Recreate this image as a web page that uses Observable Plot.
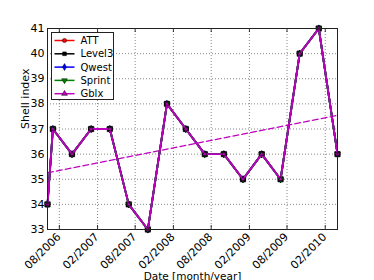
<!DOCTYPE html>
<html><head><meta charset="utf-8">
<script src="https://cdn.jsdelivr.net/npm/d3@7"></script>
<script src="https://cdn.jsdelivr.net/npm/@observablehq/plot@0.6"></script>
<style>
body{margin:0;background:#fff}
#chart{width:374px;height:280px}
</style>
</head><body><div id="chart"></div>
<script>
const dates = ["2006-06-05","2006-07-01","2006-10-01","2007-01-01","2007-04-01","2007-07-01","2007-10-01","2008-01-01","2008-04-01","2008-07-01","2008-10-01","2009-01-01","2009-04-01","2009-07-01","2009-10-01","2010-01-01","2010-04-01"];
const att    = [34,37,36,37,37,34,33,38,37,36,36,35,36,35,40,41,36];
const level3 = [34,37,36,37,37,34,33,38,37,36,36,35,36,35,40,41,36];
const qwest  = [34,37,36,37,37,34,33,38,37,36,36,35,36,35,40,41,36];
const sprint = [34,37,36,37,37,34,33,38,37,36,36,35,36,35,40,41,36];
const gblx   = [34,37,36,37,37,34,33,38,37,36,36,35,36,35,40,41,36];
const seriesNames = ["ATT","Level3","Qwest","Sprint","Gblx"];
const seriesValues = [att, level3, qwest, sprint, gblx];
const seriesColors = ["#ff0000","#000000","#0000ff","#008000","#bf00bf"];
const xTicks = ["2006-08-01","2007-02-01","2007-08-01","2008-02-01","2008-08-01","2009-02-01","2009-08-01","2010-02-01"];
const xTickLabels = ["08/2006","02/2007","08/2007","02/2008","08/2008","02/2009","08/2009","02/2010"];
const yTicks = [33,34,35,36,37,38,39,40,41];
const xLabel = "Date [month/year]";
const yLabel = "Shell index";

const ML = 47, MR = 37, MT = 28, MB = 51, W = 374, H = 280;
const parse = d3.utcParse("%Y-%m-%d");
const triangleDown = {
  draw(ctx, size) {
    const y = -Math.sqrt(size / (Math.sqrt(3) * 3));
    ctx.moveTo(0, -y * 2);
    ctx.lineTo(-Math.sqrt(3) * y, y);
    ctx.lineTo(Math.sqrt(3) * y, y);
    ctx.closePath();
  }
};
const seriesSymbols = [d3.symbolCircle, d3.symbolSquare, d3.symbolDiamond, triangleDown, d3.symbolTriangle];
const seriesR = [2.6, 3, 2.2, 2.2, 1.7];

const rows = [];
seriesNames.forEach((name, s) => {
  seriesValues[s].forEach((v, i) => rows.push({series: name, s, date: parse(dates[i]), value: v}));
});
const gblxRows = gblx.map((v, i) => ({date: parse(dates[i]), value: v}));
const xTickDates = xTicks.map(parse);

const font = "DejaVu Sans, sans-serif";

const marks = [
  Plot.ruleX(xTickDates, {x: d => d, stroke: "#555", strokeWidth: 0.7, strokeDasharray: "1,2"}),
  Plot.ruleY(yTicks, {y: d => d, stroke: "#555", strokeWidth: 0.7, strokeDasharray: "1,2"}),
  Plot.ruleX(xTickDates, {x: d => d, y1: 33, y2: 33.16, stroke: "#000", strokeWidth: 0.8}),
  Plot.ruleX(xTickDates, {x: d => d, y1: 40.84, y2: 41, stroke: "#000", strokeWidth: 0.8}),
  Plot.linearRegressionY(gblxRows, {x: "date", y: "value", ci: 0, stroke: "#bf00bf", strokeWidth: 1.2, strokeDasharray: "6,3"})
];
seriesNames.forEach((name, s) => {
  const data = rows.filter(r => r.s === s);
  marks.push(Plot.line(data, {x: "date", y: "value", stroke: seriesColors[s], strokeWidth: 1.8}));
  marks.push(Plot.dot(data, {x: "date", y: "value", symbol: () => seriesSymbols[s], r: seriesR[s], fill: seriesColors[s], stroke: "#000", strokeWidth: 0.6}));
});
marks.push(
  Plot.frame({stroke: "#222", strokeWidth: 1}),
  Plot.axisY({ticks: yTicks, tickSize: 0, tickPadding: 3, fontSize: 11, label: null, tickFormat: d => String(d)}),
  Plot.text(xTicks.map((d, i) => ({date: parse(d), label: xTickLabels[i]})), {x: "date", text: "label", frameAnchor: "bottom", rotate: -45, textAnchor: "end", dy: 8, dx: 2, fontSize: 11, fill: "#000"}),
  Plot.text([xLabel], {frameAnchor: "bottom", dy: 50, fontSize: 10.5, fill: "#000"}),
  Plot.text([yLabel], {frameAnchor: "left", dx: -22, rotate: -90, fontSize: 11, fill: "#000"})
);

const chart = Plot.plot({
  width: W,
  height: H,
  marginLeft: ML,
  marginRight: MR,
  marginTop: MT,
  marginBottom: MB,
  style: {fontFamily: font, fontSize: "11px", color: "#000", background: "#fff"},
  x: {type: "utc", domain: [parse(dates[0]), parse(dates[dates.length - 1])], axis: null},
  y: {type: "linear", domain: [33, 41], axis: null},
  marks
});

// legend
const g = d3.select(chart).append("g").attr("font-family", font).attr("text-anchor", "start");
const x0 = ML + 4.5, y0 = MT + 4.5;
g.append("rect").attr("x", x0).attr("y", y0).attr("width", 62).attr("height", 67)
  .attr("fill", "#fff").attr("stroke", "#222").attr("stroke-width", 1);
seriesNames.forEach((name, i) => {
  const y = y0 + 8 + i * 13.3;
  g.append("line").attr("x1", x0 + 3).attr("x2", x0 + 23).attr("y1", y).attr("y2", y)
    .attr("stroke", seriesColors[i]).attr("stroke-width", 1.5);
  g.append("path").attr("transform", `translate(${x0 + 13},${y})`)
    .attr("d", d3.symbol(seriesSymbols[i], 14)())
    .attr("fill", seriesColors[i]).attr("stroke", "#000").attr("stroke-width", 0.5);
  g.append("text").attr("x", x0 + 29).attr("y", y).attr("dy", "0.35em")
    .attr("font-size", 10).attr("fill", "#000").text(name);
});
document.getElementById("chart").appendChild(chart);
</script>
</body></html>
